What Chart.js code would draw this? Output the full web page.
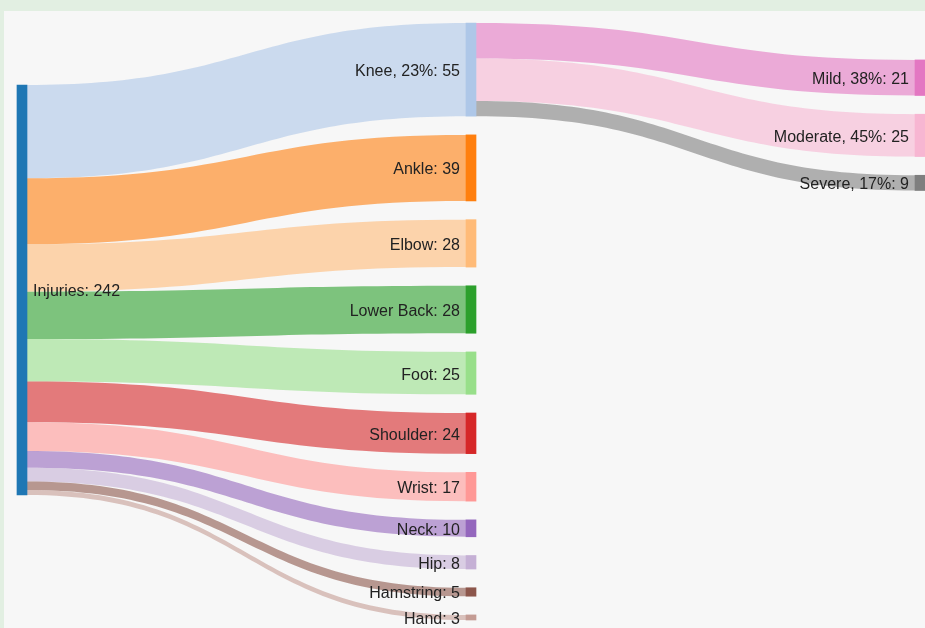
<!DOCTYPE html>
<html>
<head>
<meta charset="utf-8">
<script src="https://cdn.jsdelivr.net/npm/chart.js@4.4.1/dist/chart.umd.min.js"></script>
<style>
  html, body { margin: 0; padding: 0; width: 925px; height: 628px; overflow: hidden; background: #e2efe2; }
  #panel { position: absolute; left: 4px; top: 11px; right: 0; bottom: 0; background: #f7f7f7; }
  #chart { position: absolute; left: 0; top: 0; }
</style>
</head>
<body>
<div id="panel"></div>
<canvas id="chart" width="925" height="628"></canvas>
<script>
// Nodes of the flow diagram, in drawing order
const nodeNames = ['Injuries', 'Knee', 'Ankle', 'Elbow', 'Lower Back', 'Foot', 'Shoulder', 'Wrist',
                   'Neck', 'Hip', 'Hamstring', 'Hand', 'Mild', 'Moderate', 'Severe'];
const nodeColumns = [0, 1, 1, 1, 1, 1, 1, 1, 1, 1, 1, 1, 2, 2, 2];
// Percent shares shown next to some node names (null = no share shown)
const nodePercents = [null, 23, null, null, null, null, null, null, null, null, null, null, 38, 45, 17];
const nodeColors = ['#1f77b4', '#aec7e8', '#ff7f0e', '#ffbb78', '#2ca02c', '#98df8a', '#d62728', '#ff9896',
                    '#9467bd', '#c5b0d5', '#8c564b', '#c49c94', '#e377c2', '#f7b6d2', '#7f7f7f'];

// Links: source -> target with a value
const linkSources = ['Injuries', 'Injuries', 'Injuries', 'Injuries', 'Injuries', 'Injuries', 'Injuries',
                     'Injuries', 'Injuries', 'Injuries', 'Injuries', 'Knee', 'Knee', 'Knee'];
const linkTargets = ['Knee', 'Ankle', 'Elbow', 'Lower Back', 'Foot', 'Shoulder', 'Wrist',
                     'Neck', 'Hip', 'Hamstring', 'Hand', 'Mild', 'Moderate', 'Severe'];
const linkValues = [55, 39, 28, 28, 25, 24, 17, 10, 8, 5, 3, 21, 25, 9];

// Layout settings (in value units along the vertical axis)
const NODE_GAP = 11.04;
const COLUMN_OFFSETS = [36.6, 0, 21.8];
const NODE_WIDTH = 10;
const LINK_ALPHA = 0.6;
const FONT = '16px "Liberation Sans", Arial, Helvetica, sans-serif';

// Node value = larger of incoming and outgoing totals
const nodeValues = nodeNames.map(name => {
  let inSum = 0, outSum = 0;
  linkValues.forEach((v, i) => {
    if (linkTargets[i] === name) inSum += v;
    if (linkSources[i] === name) outSum += v;
  });
  return Math.max(inSum, outSum);
});

// Stack nodes within each column
const columnCursor = COLUMN_OFFSETS.slice();
const nodeRanges = nodeNames.map((name, i) => {
  const c = nodeColumns[i];
  const start = columnCursor[c];
  const end = start + nodeValues[i];
  columnCursor[c] = end + NODE_GAP;
  return [start, end];
});
const yMax = Math.max(...columnCursor) - NODE_GAP;

const nodeData = nodeNames.map((name, i) => ({ x: nodeColumns[i], y: nodeRanges[i] }));

function hexToRgba(hex, a) {
  const n = parseInt(hex.slice(1), 16);
  return `rgba(${(n >> 16) & 255}, ${(n >> 8) & 255}, ${n & 255}, ${a})`;
}

// Draws the flows between node bars, using the bar elements and the y scale
const sankeyLinks = {
  id: 'sankeyLinks',
  beforeDatasetsDraw(chart) {
    const meta = chart.getDatasetMeta(0);
    const yScale = chart.scales.y;
    const ctx = chart.ctx;
    const outOffset = nodeNames.map(() => 0);
    const inOffset = nodeNames.map(() => 0);
    ctx.save();
    linkValues.forEach((v, i) => {
      const s = nodeNames.indexOf(linkSources[i]);
      const t = nodeNames.indexOf(linkTargets[i]);
      const sBar = meta.data[s], tBar = meta.data[t];
      const x0 = sBar.x + sBar.width / 2;
      const x1 = tBar.x - tBar.width / 2;
      const sTop = nodeRanges[s][0] + outOffset[s];
      const tTop = nodeRanges[t][0] + inOffset[t];
      outOffset[s] += v;
      inOffset[t] += v;
      const ys0 = yScale.getPixelForValue(sTop);
      const ys1 = yScale.getPixelForValue(sTop + v);
      const yt0 = yScale.getPixelForValue(tTop);
      const yt1 = yScale.getPixelForValue(tTop + v);
      const xm = (x0 + x1) / 2;
      ctx.beginPath();
      ctx.moveTo(x0, ys0);
      ctx.bezierCurveTo(xm, ys0, xm, yt0, x1, yt0);
      ctx.lineTo(x1, yt1);
      ctx.bezierCurveTo(xm, yt1, xm, ys1, x0, ys1);
      ctx.closePath();
      ctx.fillStyle = hexToRgba(nodeColors[t], LINK_ALPHA);
      ctx.fill();
    });
    ctx.restore();
  },
  afterDatasetsDraw(chart) {
    const meta = chart.getDatasetMeta(0);
    const ctx = chart.ctx;
    ctx.save();
    ctx.font = FONT;
    ctx.fillStyle = '#222';
    ctx.textBaseline = 'middle';
    nodeNames.forEach((name, i) => {
      const bar = meta.data[i];
      const pct = nodePercents[i] != null ? `, ${nodePercents[i]}%` : '';
      const text = `${name}${pct}: ${nodeValues[i]}`;
      const yc = (bar.y + bar.base) / 2 + 2;
      if (nodeColumns[i] === 0) {
        ctx.textAlign = 'left';
        ctx.fillText(text, bar.x + bar.width / 2 + 6, yc);
      } else {
        ctx.textAlign = 'right';
        ctx.fillText(text, bar.x - bar.width / 2 - 6, yc);
      }
    });
    ctx.restore();
  }
};

new Chart(document.getElementById('chart'), {
  type: 'bar',
  data: {
    datasets: [{
      data: nodeData,
      backgroundColor: nodeColors,
      borderWidth: 0,
      barThickness: NODE_WIDTH,
      clip: false
    }]
  },
  options: {
    responsive: false,
    animation: false,
    layout: { padding: { left: 22, right: 5, top: 23, bottom: 8 } },
    scales: {
      x: { type: 'linear', min: 0, max: 2, offset: false, display: false },
      y: { type: 'linear', min: 0, max: yMax, reverse: true, display: false }
    },
    plugins: {
      legend: { display: false },
      tooltip: { enabled: false }
    }
  },
  plugins: [sankeyLinks]
});
</script>
</body>
</html>
